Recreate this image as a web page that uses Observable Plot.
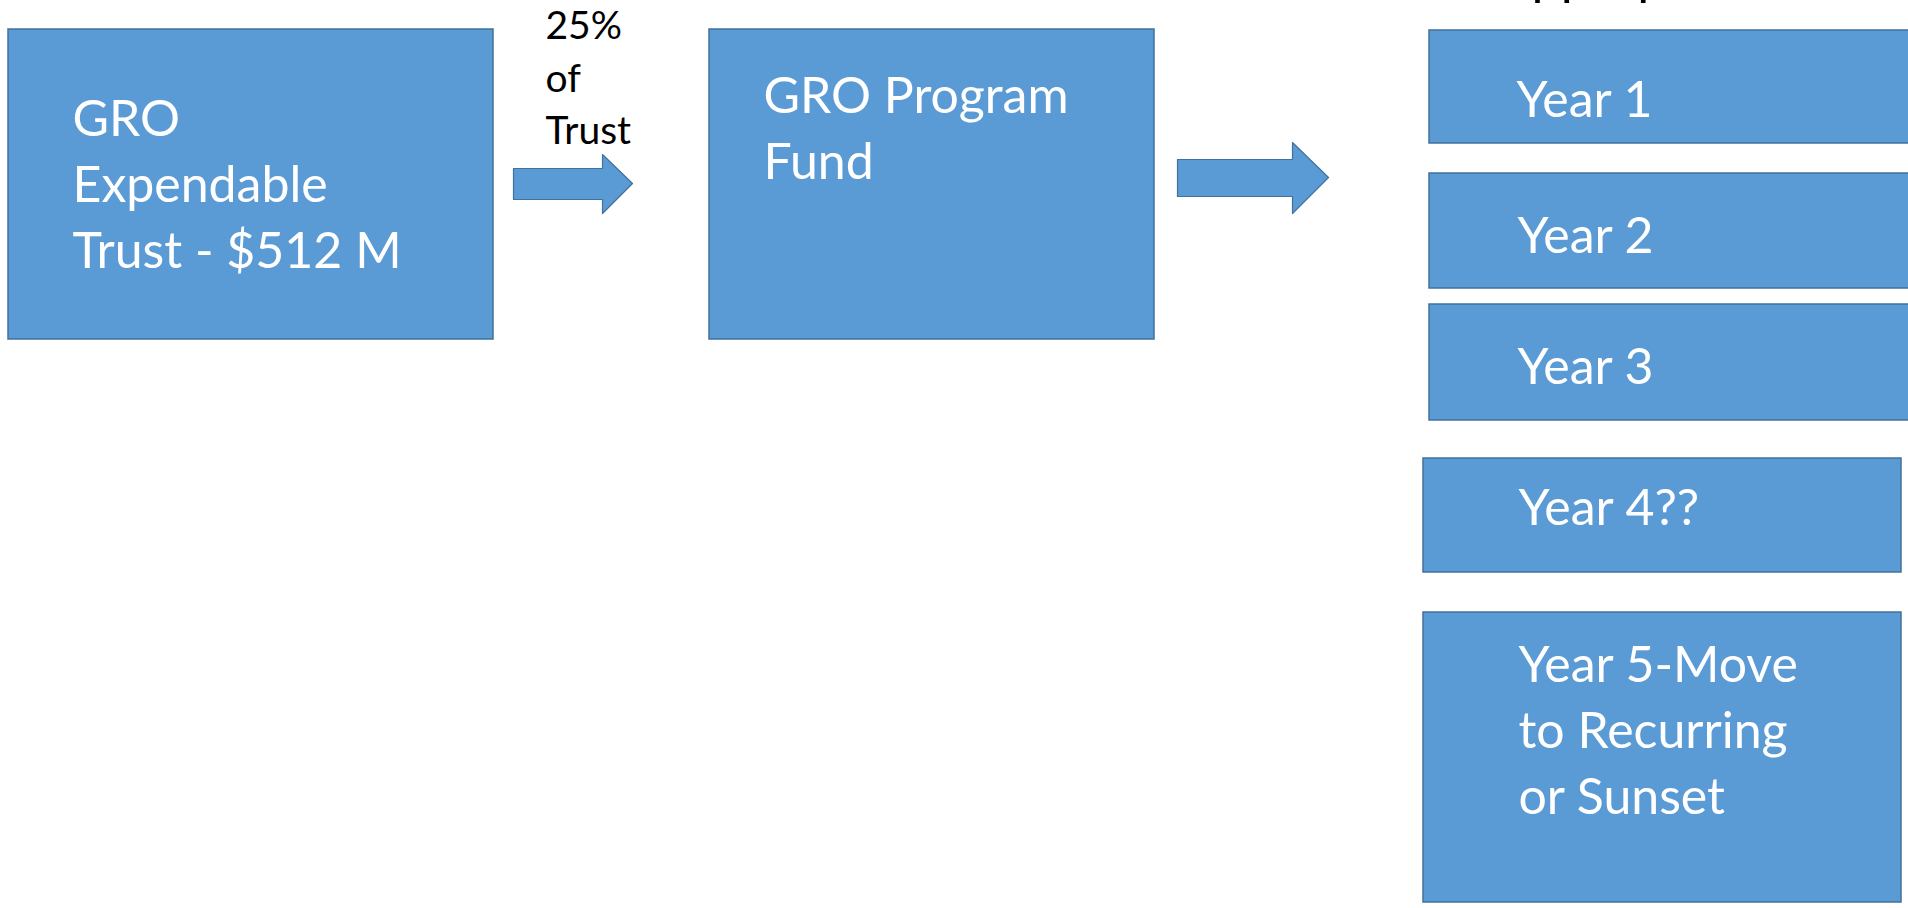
<!DOCTYPE html>
<html>
<head>
<meta charset="utf-8">
<script src="https://cdn.jsdelivr.net/npm/d3@7"></script>
<script src="https://cdn.jsdelivr.net/npm/@observablehq/plot@0.6"></script>
<style>
  html, body { margin: 0; padding: 0; background: #fff; overflow: hidden; }
  #chart svg { display: block; }
</style>
</head>
<body>
<div id="chart"></div>
<script>
// ---- Diagram data ----
// Boxes: label, left, right, top, bottom (pixel units of a 1908x908 canvas)
const boxNames  = ["trust", "fund", "year1", "year2", "year3", "year4", "year5"];
const boxLeft   = [8,   709,  1429, 1429, 1429, 1423, 1423];
const boxRight  = [493, 1154, 1915, 1915, 1915, 1901, 1901];
const boxTop    = [29,  29,   30,   173,  304,  458,  612];
const boxBottom = [339, 339,  143,  288,  420,  572,  902];

// White labels inside boxes (anchor of first line)
const boxLabels = [
  "GRO\nExpendable\nTrust - $512 M",
  "GRO Program\nFund",
  "Year 1",
  "Year 2",
  "Year 3",
  "Year 4??",
  "Year 5-Move\nto Recurring\nor Sunset"
];
const labelX = [72, 763, 1516, 1517, 1517, 1518, 1518];
const labelY = [89, 66, 70, 206, 337, 478, 635];

// Black annotation texts
const noteTexts = ["25%\nof\nTrust"];
const noteX = [545];
const noteY = [1];
const headerTexts = ["Appropriation"];
const headerX = [1496];
const headerY = [-43];

// Arrow outlines (block arrows), listed as polygon vertices
const arrowIds = ["a1","a1","a1","a1","a1","a1","a1","a2","a2","a2","a2","a2","a2","a2"];
const arrowX   = [513, 602, 602, 632, 602, 602, 513, 1177, 1292, 1292, 1328, 1292, 1292, 1177];
const arrowY   = [168, 168, 154, 183, 213, 199, 199, 159, 159, 142, 177, 213, 196, 196];

// ---- Build tables ----
const boxes = boxNames.map((name, i) => ({name, x1: boxLeft[i], x2: boxRight[i], y1: boxTop[i], y2: boxBottom[i]}));
const labels = boxLabels.map((t, i) => ({t, x: labelX[i], y: labelY[i]}));
const notes = noteTexts.map((t, i) => ({t, x: noteX[i], y: noteY[i]}));
const headers = headerTexts.map((t, i) => ({t, x: headerX[i], y: headerY[i]}));
const arrows = arrowIds.map((id, i) => ({id, x: arrowX[i], y: arrowY[i]}));

const W = 1908, H = 908;
const FILL = "#5b9bd5", EDGE = "#41719c";
const FONT = "Lato, 'Open Sans', sans-serif";

const chart = Plot.plot({
  width: W,
  height: H,
  margin: 0,
  style: {background: "white", overflow: "visible"},
  x: {domain: [0, W], range: [0, W], axis: null},
  y: {domain: [0, H], range: [0, H], axis: null},
  marks: [
    Plot.rect(boxes, {x1: "x1", x2: "x2", y1: "y1", y2: "y2", fill: FILL, stroke: EDGE, strokeWidth: 1.5}),
    Plot.line(arrows, {x: "x", y: "y", z: "id", curve: "linear-closed", fill: FILL, stroke: EDGE, strokeWidth: 1.2}),
    Plot.text(labels, {x: "x", y: "y", text: "t", textAnchor: "start", lineAnchor: "top",
      fontSize: 50, lineHeight: 1.32, fill: "white", fontFamily: FONT}),
    Plot.text(notes, {x: "x", y: "y", text: "t", textAnchor: "start", lineAnchor: "top",
      fontSize: 39, lineHeight: 1.35, fill: "black", fontFamily: FONT}),
    Plot.text(headers, {x: "x", y: "y", text: "t", textAnchor: "start", lineAnchor: "top",
      fontSize: 52, fill: "black", fontFamily: FONT})
  ]
});
document.getElementById("chart").appendChild(chart);
</script>
</body>
</html>
